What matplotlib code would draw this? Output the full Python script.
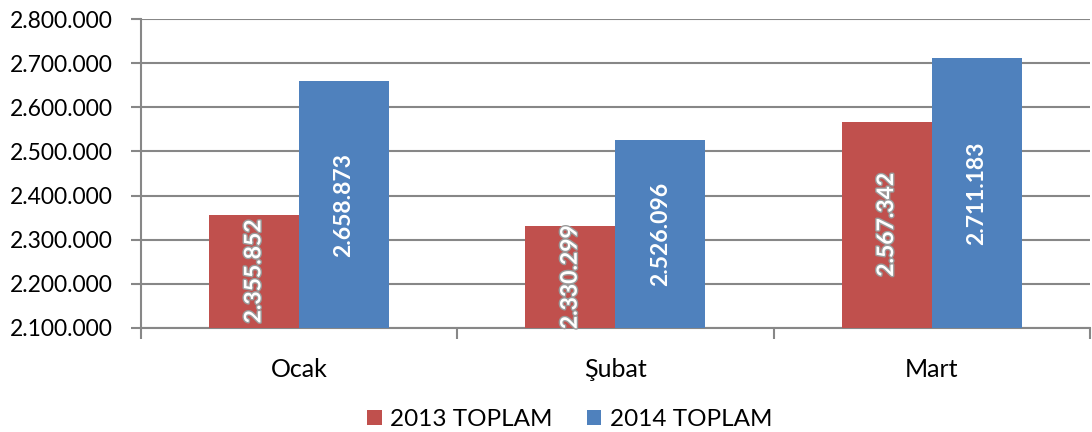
import matplotlib
matplotlib.use('Agg')
import matplotlib.pyplot as plt
import matplotlib.patheffects as pe
from matplotlib.ticker import FuncFormatter, FixedLocator
import numpy as np

months = ["Ocak", "Şubat", "Mart"]
toplam_2013 = [2355852, 2330299, 2567342]
toplam_2014 = [2658873, 2526096, 2711183]
series_names = ["2013 TOPLAM", "2014 TOPLAM"]

red = "#C0504D"
blue = "#4F81BD"
grid_col = "#878787"

plt.rcParams['font.family'] = ['Lato', 'DejaVu Sans']

def tr_fmt(v, pos=None):
    return f"{int(round(v)):,}".replace(",", ".")

fig = plt.figure(figsize=(10.92, 4.32), dpi=100)
ax = fig.add_axes([0.129, 0.241, 0.869, 0.715])

x = np.arange(len(months))
w = 0.285
b1 = ax.bar(x - w / 2, toplam_2013, w, color=red, label=series_names[0], zorder=3)
b2 = ax.bar(x + w / 2, toplam_2014, w, color=blue, label=series_names[1], zorder=3)

ymin = 2100000
ax.set_ylim(ymin, 2800000)
ax.set_xlim(-0.5, len(months) - 0.5)
ax.yaxis.set_major_formatter(FuncFormatter(tr_fmt))
ax.set_yticks(np.arange(2100000, 2800001, 100000))
ax.grid(axis='y', color=grid_col, linewidth=1.5, zorder=0)

ax.set_xticks(x)
ax.set_xticklabels(months)
ax.xaxis.set_minor_locator(FixedLocator(np.arange(-0.5, len(months), 1.0)))
ax.tick_params(axis='x', which='major', length=0, pad=22, labelsize=18)
ax.tick_params(axis='x', which='minor', length=8, width=1.5, color=grid_col, direction='out')
ax.tick_params(axis='y', length=7, width=1.5, color=grid_col, labelsize=16.5, pad=13)

for s in ['top', 'right']:
    ax.spines[s].set_visible(False)
for s in ['left', 'bottom']:
    ax.spines[s].set_color(grid_col)
    ax.spines[s].set_linewidth(1.5)

for rect, v in zip(b1, toplam_2013):
    cx = rect.get_x() + rect.get_width() / 2
    ax.text(cx, (ymin + v) / 2, tr_fmt(v), rotation=90, ha='center', va='center',
            color='white', fontsize=16.5, fontweight='bold', zorder=4,
            path_effects=[pe.withStroke(linewidth=2, foreground='#9a9a9a')])
for rect, v in zip(b2, toplam_2014):
    cx = rect.get_x() + rect.get_width() / 2
    ax.text(cx, (ymin + v) / 2, tr_fmt(v), rotation=90, ha='center', va='center',
            color='white', fontsize=16.5, fontweight='bold', zorder=4)

ax.legend(loc='upper center', bbox_to_anchor=(0.452, -0.232), ncol=2, frameon=False,
          fontsize=17.5, handlelength=0.6, handleheight=0.6, handletextpad=0.35,
          columnspacing=1.4, borderaxespad=0)

fig.savefig("out.png", dpi=100)
